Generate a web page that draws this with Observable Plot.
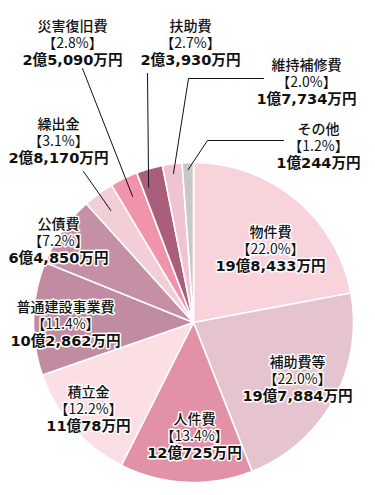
<!DOCTYPE html>
<html><head><meta charset="utf-8">
<script src="https://cdn.jsdelivr.net/npm/d3@7"></script>
<script src="https://cdn.jsdelivr.net/npm/@observablehq/plot@0.6"></script>
<style>html,body{margin:0;padding:0;background:#fff}#chart svg{display:block}</style>
</head><body><div id="chart"></div>
<script>
// ---- data (amounts in 万円) ----
const categories = ["物件費","補助費等","人件費","積立金","普通建設事業費","公債費","繰出金","災害復旧費","扶助費","維持補修費","その他"];
const amounts = [198433,197884,120725,110078,102862,64850,28170,25090,23930,17734,10244];
const shares = ["22.0","22.0","13.4","12.2","11.4","7.2","3.1","2.8","2.7","2.0","1.2"];
const colors = ["#f9d3db","#e6c4cf","#e291a6","#fbdfe4","#c18ba2","#c58fa6","#f2cfd7","#f093ab","#ab5e7c","#efc3d2","#c8c8c8"];

// ---- layout ----
const W = 375, H = 495, CX = 193, CY = 322, R = 160, FS = 14, LH = 16.5;
const labelPos = {
  "物件費":[270,248], "補助費等":[297,378], "人件費":[194,435], "積立金":[88,408],
  "普通建設事業費":[65,323], "公債費":[58,240], "繰出金":[58,140], "災害復旧費":[72,42],
  "扶助費":[190,42], "維持補修費":[306,81], "その他":[318,145]
};
const leaders = [
  {name:"繰出金", start:[[83,171]], r:0.87, f:0.5},
  {name:"災害復旧費", start:[[82,68]], r:0.875, f:0.5},
  {name:"扶助費", start:[[147,73]], r:0.89, f:0.25},
  {name:"維持補修費", start:[[263,78],[188,78]], r:0.94, f:0.5},
  {name:"その他", start:[[283,140],[207,140]], r:0.955, f:0.5}
];

const fmtAmount = v => `${Math.floor(v/10000)}億${d3.format(",")(v%10000)}万円`;
const rows = categories.map((c,i)=>({name:c, amount:amounts[i], share:shares[i], color:colors[i]}));
const arcs = d3.pie().sort(null).value(d=>d.amount).startAngle(0).endAngle(2*Math.PI)(rows);
const pt = (a, r) => [CX + r*Math.sin(a), CY - r*Math.cos(a)];

// slice polygons
const slicePts = [];
for (const a of arcs) {
  const [x0,y0] = pt(0,0);
  slicePts.push({id:a.data.name, color:a.data.color, x:x0, y:y0});
  const n = Math.max(2, Math.ceil((a.endAngle-a.startAngle)/(Math.PI/360)));
  for (let k=0;k<=n;k++){
    const ang = a.startAngle + (a.endAngle-a.startAngle)*k/n;
    const [x,y] = pt(ang,R);
    slicePts.push({id:a.data.name, color:a.data.color, x, y});
  }
}
const arcByName = Object.fromEntries(arcs.map(a=>[a.data.name,a]));
const leaderPts = [];
for (const l of leaders) {
  const a = arcByName[l.name];
  const ang = a.startAngle + (a.endAngle-a.startAngle)*l.f;
  for (const [x,y] of l.start) leaderPts.push({id:l.name,x,y});
  const [x,y] = pt(ang, l.r*R);
  leaderPts.push({id:l.name,x,y});
}
const labels = rows.map(d=>({...d, x:labelPos[d.name][0], y:labelPos[d.name][1]}));

const chart = Plot.plot({
  width: W, height: H, margin: 0,
  x: {type:"linear", domain:[0,W], range:[0,W], axis:null},
  y: {type:"linear", domain:[0,H], range:[0,H], axis:null},
  style: {fontFamily: "'Noto Sans CJK JP',sans-serif", background:"#fff"},
  marks: [
    Plot.line(slicePts, {x:"x", y:"y", z:"id", fill:d=>d.color, stroke:"white", strokeWidth:1.6, strokeLinejoin:"round", curve:"linear-closed"}),
    Plot.line(leaderPts, {x:"x", y:"y", z:"id", stroke:"#111", strokeWidth:1}),
    Plot.text(labels, {x:"x", y:"y", text:d=>`${d.name}\n【${d.share}%】\n${fmtAmount(d.amount)}`,
      fill:"#111", stroke:"white", strokeWidth:3, paintOrder:"stroke", textAnchor:"middle", lineAnchor:"middle",
      fontSize:FS, lineHeight:LH/FS, fontWeight:500, className:"lbl"})
  ]
});
// style the third line (amount) in bold Latin face
d3.select(chart).selectAll("text tspan:nth-child(3)")
  .attr("font-weight","bold")
  .attr("font-size", 14.6)
  .attr("font-family","'DejaVu Sans','Noto Sans CJK JP',sans-serif");
d3.select(chart).selectAll("text tspan:nth-child(2)").attr("font-weight","400");
document.getElementById("chart").append(chart);
</script>
</body></html>
